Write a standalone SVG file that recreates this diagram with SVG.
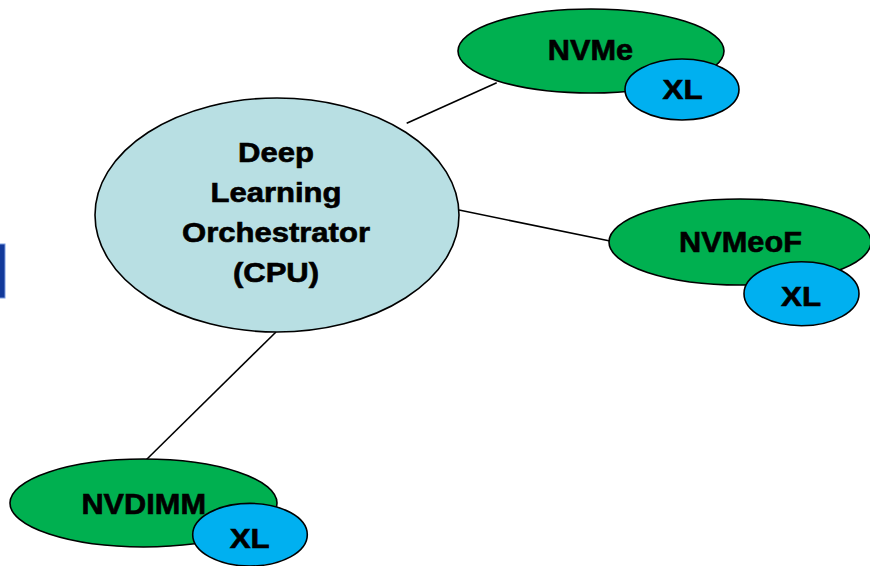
<svg xmlns="http://www.w3.org/2000/svg" width="870" height="566" viewBox="0 0 870 566">
<style>
text{font-family:"Liberation Sans",Arial,sans-serif;font-weight:bold;fill:#000;stroke:#000;stroke-width:0.6;text-anchor:middle}
.main{font-size:27px}
.lbl{font-size:29px}
.xl{font-size:28px}
.cpu{fill:#B8DFE3;stroke:#000;stroke-width:1.6}
.grn{fill:#00B050;stroke:#000;stroke-width:1.6}
.blu{fill:#00B0F0;stroke:#000;stroke-width:1.6}
.conn line{stroke:#000;stroke-width:1.6}
</style>
<rect x="-2" y="244" width="7" height="54" fill="#12399A" stroke="#7B9BE0" stroke-width="1"/>
<g id="connectors" class="conn">
<line x1="406.7" y1="123.3" x2="496.7" y2="82.7"/>
<line x1="459" y1="210" x2="610" y2="241"/>
<line x1="276" y1="332" x2="145" y2="461"/>
</g>
<g id="cpu">
<ellipse class="cpu" cx="277" cy="215" rx="182" ry="117"/>
<text class="main" transform="translate(276,161.7) scale(1.15,1)">Deep</text>
<text class="main" transform="translate(276,201.7) scale(1.15,1)">Learning</text>
<text class="main" transform="translate(276,241.7) scale(1.15,1)">Orchestrator</text>
<text class="main" transform="translate(276,281.7) scale(1.15,1)">(CPU)</text>
</g>
<g id="nvme">
<ellipse class="grn" cx="591" cy="51" rx="133" ry="42"/>
<text class="lbl" transform="translate(590.5,60) scale(1.06,1)">NVMe</text>
</g>
<g id="nvme-xl">
<ellipse class="blu" cx="682" cy="89.5" rx="57" ry="30.5"/>
<text class="xl" transform="translate(682.5,99.3) scale(1.12,1)">XL</text>
</g>
<g id="nvmeof">
<ellipse class="grn" cx="740" cy="242" rx="131" ry="43"/>
<text class="lbl" transform="translate(740.5,251.7) scale(1.06,1)">NVMeoF</text>
</g>
<g id="nvmeof-xl">
<ellipse class="blu" cx="801.5" cy="293.7" rx="57.5" ry="32"/>
<text class="xl" transform="translate(801,306) scale(1.12,1)">XL</text>
</g>
<g id="nvdimm">
<ellipse class="grn" cx="143.5" cy="503" rx="133.5" ry="44"/>
<text class="lbl" transform="translate(143.7,514) scale(1.06,1)">NVDIMM</text>
</g>
<g id="nvdimm-xl">
<ellipse class="blu" cx="250" cy="534.7" rx="57.3" ry="31.3"/>
<text class="xl" transform="translate(249.7,547.7) scale(1.12,1)">XL</text>
</g>
</svg>
